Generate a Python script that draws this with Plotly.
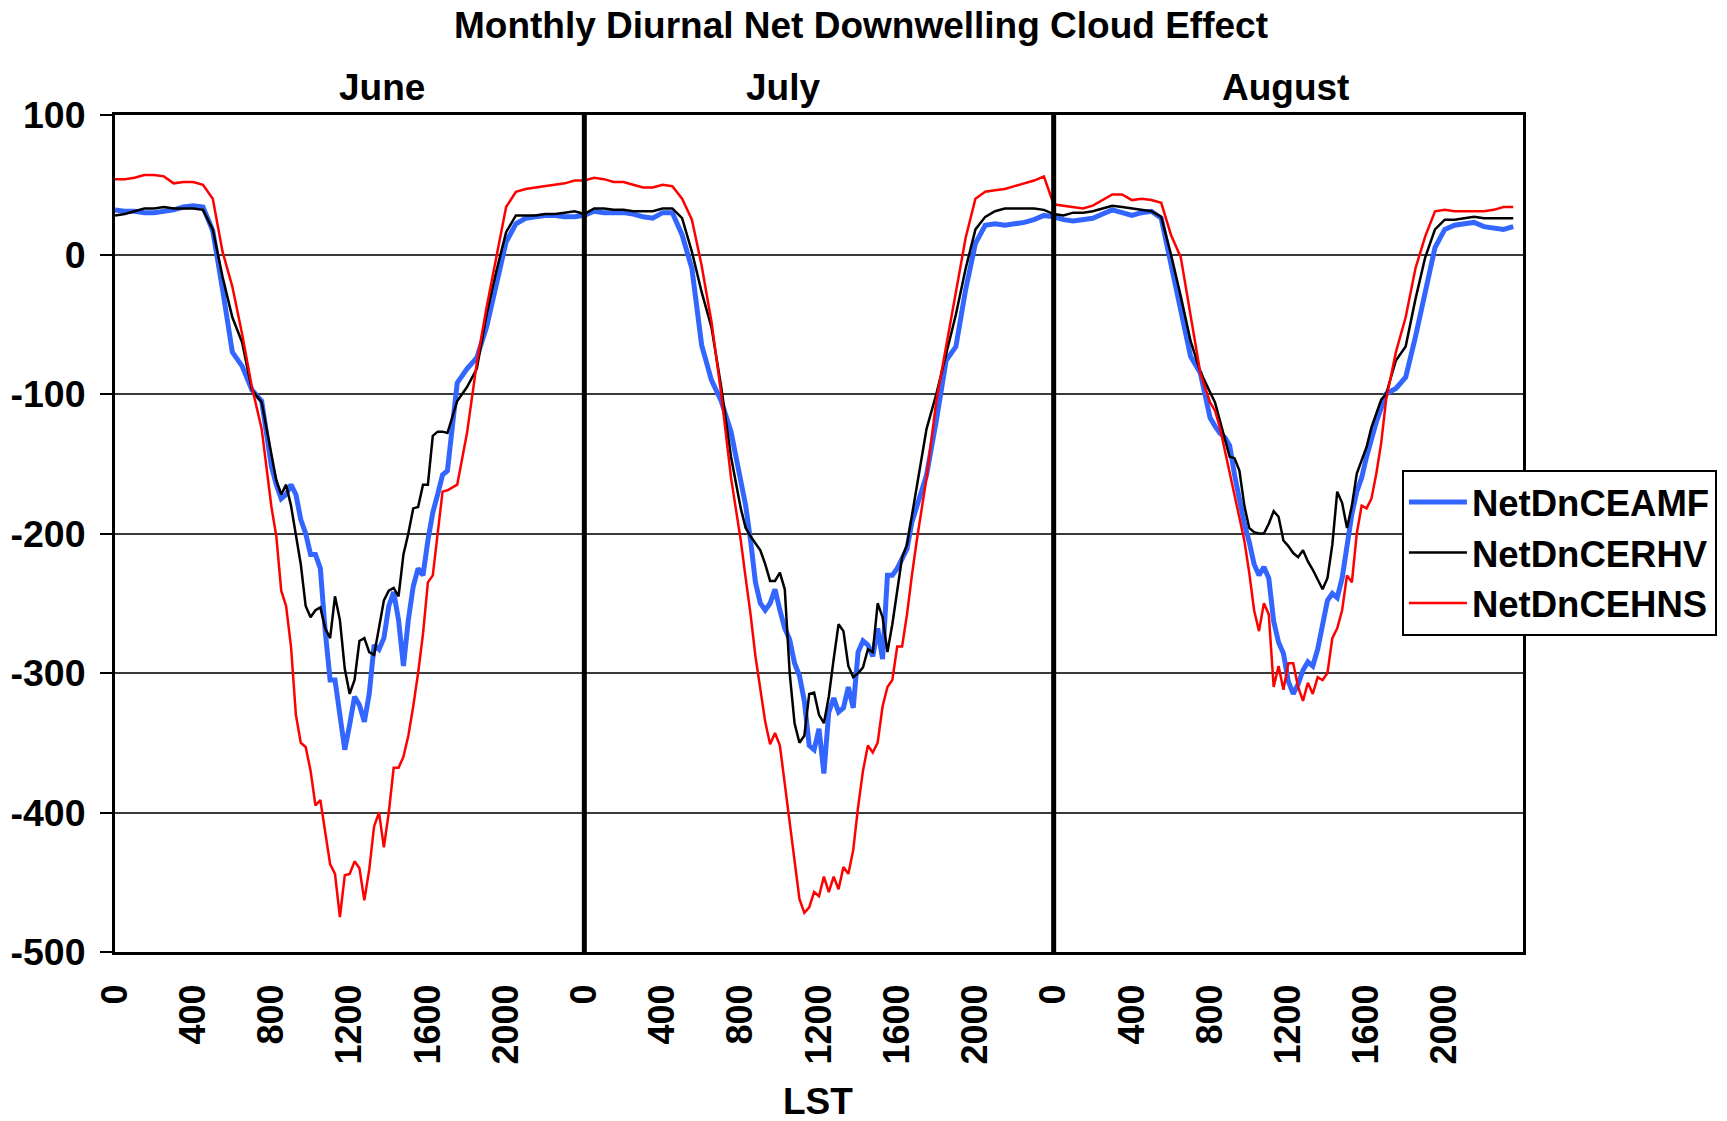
import plotly.graph_objects as go

# Local standard time of each diurnal composite sample (HHMM):
# half-hourly at night, quarter-hourly through the daytime
lst_hhmm = [0, 30, 100, 130, 200, 230, 300, 330, 400, 430, 500, 530,
            600, 630, 700, 730,
            800, 815, 830, 845, 900, 915, 930, 945, 1000, 1015, 1030, 1045,
            1100, 1115, 1130, 1145, 1200, 1215, 1230, 1245, 1300, 1315, 1330, 1345,
            1400, 1415, 1430, 1445, 1500, 1515, 1530, 1545, 1600, 1615, 1630, 1645,
            1700, 1730, 1800, 1830, 1900, 1930, 2000, 2030, 2100, 2130, 2200, 2230,
            2300, 2330]

months = ["June", "July", "August"]

# Net downwelling cloud effect (W m-2), one diurnal cycle per month
june_amf = [32, 31, 31, 30, 30, 31, 32, 34, 35, 34, 17, -25, -70, -80, -97, -105,
            -152, -165, -175, -172, -165, -172, -190, -200, -215, -215, -225, -270,
            -305, -305, -330, -355, -337, -317, -323, -335, -315, -280, -283, -275,
            -252, -242, -262, -295, -262, -238, -225, -230, -205, -185, -172, -158,
            -155, -92, -82, -74, -52, -20, 9, 22, 26, 27, 28, 28, 27, 27]
june_rhv = [28, 29, 31, 33, 33, 34, 33, 33, 33, 32, 18, -16, -45, -63, -97, -106,
            -145, -162, -172, -165, -180, -200, -222, -252, -260, -255, -253, -268,
            -275, -245, -262, -297, -315, -305, -277, -275, -285, -287, -268, -248,
            -241, -239, -245, -215, -200, -182, -181, -165, -165, -130, -127, -127,
            -128, -105, -95, -82, -43, -12, 16, 28, 28, 28, 29, 29, 30, 31]
june_hns = [54, 54, 55, 57, 57, 56, 51, 52, 52, 50, 40, 2, -23, -57, -95, -125,
            -181, -202, -241, -252, -281, -330, -350, -353, -370, -395, -391, -415,
            -437, -444, -475, -445, -444, -435, -440, -463, -441, -410, -400, -425,
            -400, -368, -368, -360, -345, -324, -300, -272, -235, -230, -200, -170,
            -169, -165, -128, -78, -38, -1, 34, 45, 47, 48, 49, 50, 51, 53]

july_amf = [28, 31, 30, 30, 30, 29, 27, 26, 30, 30, 14, -10, -65, -90, -105, -127,
            -165, -180, -205, -235, -250, -255, -250, -240, -255, -268, -276, -293,
            -302, -320, -352, -355, -340, -372, -328, -318, -328, -325, -310, -325,
            -285, -277, -280, -288, -268, -290, -230, -230, -225, -217, -211, -192,
            -180, -158, -119, -76, -66, -25, 8, 21, 22, 21, 22, 23, 25, 28]
july_rhv = [29, 33, 33, 32, 32, 31, 31, 31, 33, 33, 26, 2, -27, -52, -95, -145,
            -182, -196, -202, -207, -212, -222, -234, -234, -228, -240, -300, -336,
            -350, -345, -315, -314, -330, -336, -317, -290, -265, -270, -295, -303,
            -300, -296, -283, -285, -250, -260, -285, -265, -240, -217, -208, -188,
            -165, -125, -100, -71, -43, -10, 18, 27, 31, 33, 33, 33, 33, 32]
july_hns = [53, 55, 54, 52, 52, 50, 48, 48, 50, 49, 40, 25, -8, -48, -100, -160,
            -205, -232, -258, -288, -312, -335, -351, -343, -352, -380, -407, -435,
            -462, -472, -468, -457, -460, -446, -457, -446, -455, -439, -444, -427,
            -396, -370, -352, -357, -350, -324, -310, -305, -281, -281, -258, -230,
            -205, -160, -105, -66, -28, 12, 40, 45, 46, 47, 49, 51, 53, 56]

aug_amf = [27, 25, 24, 25, 26, 29, 32, 30, 28, 30, 31, 26, -6, -42, -73, -85,
           -117, -123, -128, -131, -137, -158, -176, -193, -206, -222, -230, -224,
           -232, -263, -278, -286, -306, -315, -308, -298, -292, -295, -283, -266,
           -248, -243, -246, -232, -208, -186, -170, -160, -145, -132, -120, -110,
           -100, -96, -88, -59, -26, 5, 18, 21, 22, 23, 20, 19, 18, 20]
aug_rhv = [29, 28, 30, 30, 31, 33, 35, 34, 33, 32, 31, 27, 0, -30, -62, -84,
           -98, -106, -119, -132, -145, -146, -155, -180, -196, -199, -200, -200,
           -193, -184, -188, -205, -209, -214, -217, -212, -220, -226, -233, -240,
           -232, -208, -170, -178, -196, -180, -157, -147, -138, -124, -114, -104,
           -100, -76, -66, -32, -2, 18, 25, 25, 26, 27, 26, 26, 26, 26]
aug_hns = [36, 35, 34, 33, 35, 39, 43, 43, 39, 40, 39, 37, 14, -2, -45, -85,
           -106, -112, -124, -140, -156, -172, -188, -205, -228, -255, -270, -250,
           -258, -310, -295, -312, -293, -293, -310, -320, -307, -315, -303, -305,
           -300, -275, -268, -255, -230, -235, -200, -180, -182, -175, -157, -135,
           -104, -70, -45, -10, 13, 31, 32, 31, 31, 31, 31, 32, 34, 34]

series = [
    ("NetDnCEAMF", [june_amf, july_amf, aug_amf], "#3366FF", 5),
    ("NetDnCERHV", [june_rhv, july_rhv, aug_rhv], "#000000", 2.5),
    ("NetDnCEHNS", [june_hns, july_hns, aug_hns], "#FF0000", 2.5),
]

label_lst = [0, 400, 800, 1200, 1600, 2000]
y_ticks = [-500, -400, -300, -200, -100, 0, 100]
FONT = "Liberation Sans, Arial, sans-serif"


def hours(t):
    return t // 100 + (t % 100) / 60.0


# Months are laid end to end on one continuous 72-hour axis
x_all = [24 * m + hours(t) for m in range(len(months)) for t in lst_hhmm]

fig = go.Figure()
for name, per_month, color, width in series:
    y_all = [v for month_vals in per_month for v in month_vals]
    fig.add_trace(go.Scatter(x=x_all, y=y_all, mode="lines", name=name,
                             line=dict(color=color, width=width)))

tickvals = [24 * m + t / 100 for m in range(len(months)) for t in label_lst]
ticktext = [str(t) for m in range(len(months)) for t in label_lst]
minor_ticks = [24 * m + h for m in range(len(months)) for h in range(0, 24, 2)]

fig.update_layout(
    width=1727, height=1121,
    margin=dict(l=115, r=204, t=115, b=169, autoexpand=False),
    paper_bgcolor="white", plot_bgcolor="white",
    font=dict(family=FONT, size=36, color="black", weight="bold"),
    showlegend=True,
    legend=dict(x=0.914, y=0.576, xanchor="left", yanchor="top",
                bgcolor="white", bordercolor="black", borderwidth=2,
                itemwidth=58,
                font=dict(family=FONT, size=36.5, weight="bold")),
    xaxis=dict(range=[0, 72], tickvals=tickvals, ticktext=ticktext,
               tickangle=-90, ticks="", showgrid=False, zeroline=False,
               showline=True, linecolor="black", linewidth=3, mirror=True,
               ticklabelstandoff=15, automargin=False,
               tickfont=dict(family=FONT, size=36, weight="bold")),
    xaxis2=dict(overlaying="x", anchor="free", position=500 / 600,
                range=[0, 72], tickvals=minor_ticks, ticks="outside",
                ticklen=11, tickwidth=3, tickcolor="black",
                showticklabels=False, showline=True, linecolor="black",
                linewidth=3, showgrid=False, zeroline=False, side="bottom"),
    yaxis=dict(range=[-500, 100], tickvals=y_ticks,
               ticktext=[str(v) for v in y_ticks], showgrid=True,
               gridcolor="#3a3a3a", gridwidth=1.6, zeroline=False,
               showline=True, linecolor="black", linewidth=3, mirror=True,
               ticks="outside", ticklen=12, tickwidth=2, tickcolor="black",
               ticklabelstandoff=7, automargin=False,
               tickfont=dict(family=FONT, size=37.5, weight="bold")),
)

# Thick separators between the monthly panels
for m in range(1, len(months)):
    fig.add_shape(type="line", xref="x", yref="paper", x0=24 * m, x1=24 * m,
                  y0=0, y1=1, line=dict(color="black", width=5))

# Month labels above each panel
month_x = [0.1893, 0.4744, 0.831]
for name, px in zip(months, month_x):
    fig.add_annotation(text=name, xref="paper", yref="paper", x=px, y=1.033,
                       xanchor="center", yanchor="middle", showarrow=False,
                       font=dict(family=FONT, size=37, weight="bold"))

fig.add_annotation(text="Monthly Diurnal Net Downwelling Cloud Effect",
                   xref="paper", yref="paper", x=0.5296, y=1.107,
                   xanchor="center", yanchor="middle", showarrow=False,
                   font=dict(family=FONT, size=37, weight="bold"))
fig.add_annotation(text="LST", xref="paper", yref="paper", x=0.4996, y=-0.1785,
                   xanchor="center", yanchor="middle", showarrow=False,
                   font=dict(family=FONT, size=37, weight="bold"))

fig.write_html("out.html")
